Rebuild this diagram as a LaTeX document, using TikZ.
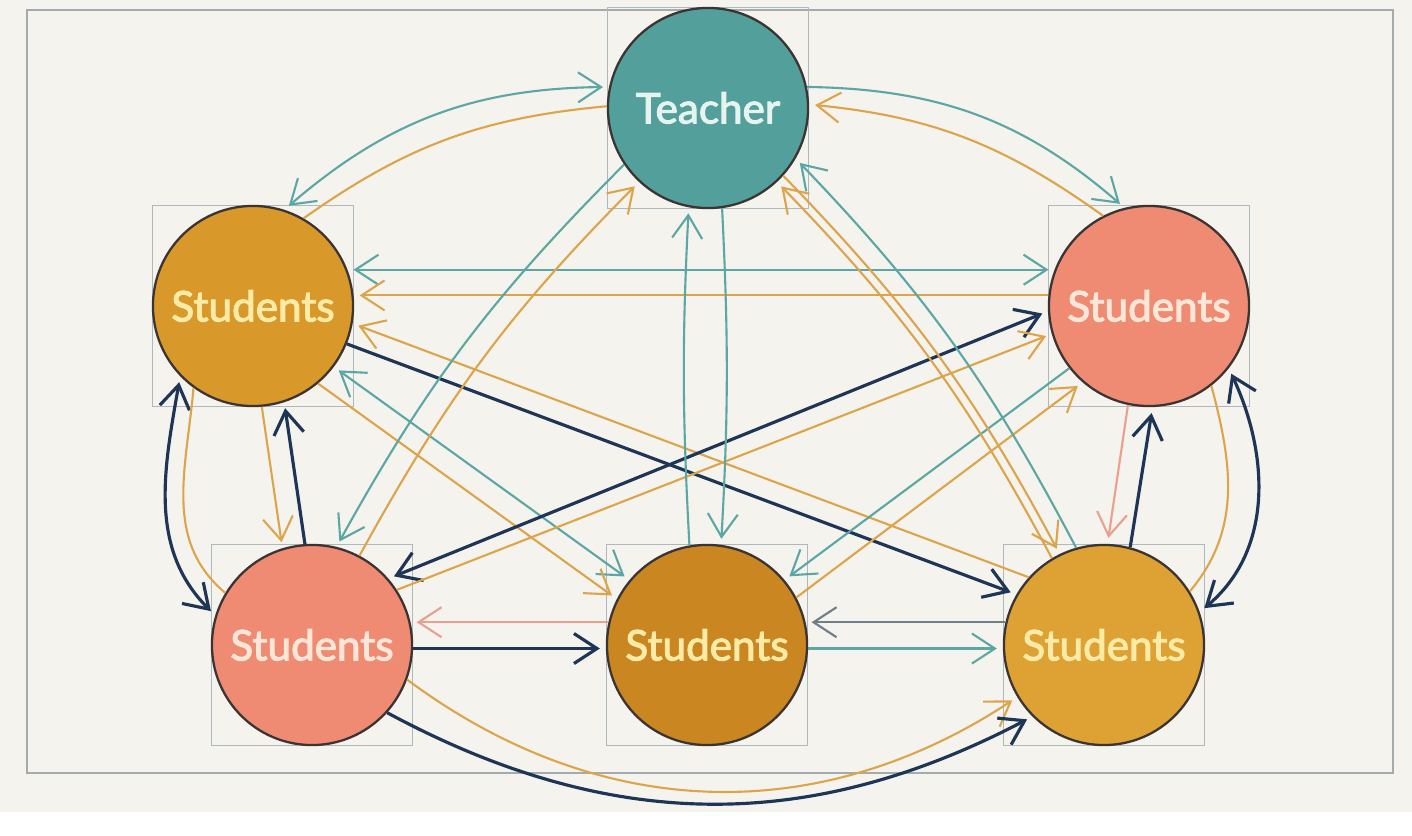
\documentclass[tikz,border=0pt]{standalone}
\usepackage{fontspec}
\setmainfont{Lato}
\newfontfamily\circlefont{Lato}[FakeBold=2.6]
\usetikzlibrary{arrows.meta}

\definecolor{paper}{HTML}{F4F3EE}
\definecolor{framecol}{HTML}{A3ABAF}
\definecolor{boxcol}{HTML}{AEB8BD}
\definecolor{ringcol}{HTML}{3B3433}
\definecolor{tealfill}{HTML}{529F9B}
\definecolor{mustA}{HTML}{D9982A}
\definecolor{mustB}{HTML}{C98621}
\definecolor{mustC}{HTML}{DDA134}
\definecolor{salfill}{HTML}{EF8B73}
\definecolor{paletext}{HTML}{FBEBA6}
\definecolor{salmtext}{HTML}{FCE6D8}
\definecolor{tealtext}{HTML}{E6F3EF}
\definecolor{tealc}{HTML}{5CA6A3}
\definecolor{goldc}{HTML}{DCA54B}
\definecolor{navyc}{HTML}{1E3556}
\definecolor{salc}{HTML}{E9A08E}
\definecolor{grayc}{HTML}{6E7F88}

\begin{document}
\begin{tikzpicture}[x=0.01cm,y=0.01cm,font=\circlefont\fontsize{12}{14}\selectfont,
    >={Straight Barb[length=2.3mm,width=3mm,sep=0.6mm]}]
    \tikzstyle{person}=[circle,draw=ringcol,line width=0.65pt,minimum size=2cm,inner sep=0]
    \tikzstyle{box}=[rectangle,draw=boxcol,line width=0.4pt,minimum size=2.01cm,inner sep=0]
    \tikzstyle{teal link}=[draw=tealc,line width=0.6pt]
    \tikzstyle{gold link}=[draw=goldc,line width=0.6pt]
    \tikzstyle{navy link}=[draw=navyc,line width=0.9pt]
    \tikzstyle{salmon link}=[draw=salc,line width=0.6pt]
    \tikzstyle{gray link}=[draw=grayc,line width=0.6pt]

    \fill[paper] (0,0) rectangle (1412,812);
    \draw[framecol,line width=0.6pt] (27,39) rectangle (1393,802);

    % boxes behind the circles
    \node(tb)[box] at (708,704) {};
    \node(lb)[box] at (253,506) {};
    \node(rb)[box] at (1149,506) {};
    \node(blb)[box] at (312,167) {};
    \node(bmb)[box] at (707,167) {};
    \node(brb)[box] at (1104,167) {};

    \node(t)[person,fill=tealfill,text=tealtext] at (tb) {Teacher};
    \node(l)[person,fill=mustA,text=paletext] at (lb) {Students};
    \node(r)[person,fill=salfill,text=salmtext] at (rb) {Students};
    \node(bl)[person,fill=salfill,text=salmtext] at (blb) {Students};
    \node(bm)[person,fill=mustB,text=paletext] at (bmb) {Students};
    \node(br)[person,fill=mustC,text=paletext] at (brb) {Students};

    % teacher and the upper groups
    \draw[teal link,<->] (l.72) to[bend left=20] (t.168);
    \draw[gold link] (l.60) to[bend left=15] (t.179);
    \draw[teal link,->] (t.12) to[bend left=20] (r.104);
    \draw[gold link,->] (r.117) to[bend right=15] (t.2);

    % across the middle
    \draw[teal link,<->] (l.21) -- (r.159);
    \draw[gold link,->] (r.174) -- (l.6);
    \draw[navy link,->] (l.-22) -- (br.150);
    \draw[gold link,->] (br.138) -- (l.-10);
    \draw[teal link,<->] (l.-37) -- (bm.140);
    \draw[gold link,->] (l.-50) -- (bm.153);
    \draw[navy link,<->] (bl.41) -- (r.-177);
    \draw[gold link,->] (bl.33) -- (r.-164);
    \draw[teal link,->] (r.-142) -- (bm.40);
    \draw[gold link,->] (bm.28) -- (r.-131);

    % left side
    \draw[navy link,<->] (l.-136) to[out=-100,in=135] (bl.163);
    \draw[gold link] (l.-126) to[out=-95,in=140] (bl.149);
    \draw[gold link,->] (l.-85) -- (bl.107);
    \draw[navy link,->] (bl.94) -- (l.-72);

    % right side
    \draw[salmon link,->] (r.-102) -- (br.88);
    \draw[navy link,->] (br.75) -- (r.-88);
    \draw[navy link,<->] (r.-38) to[out=-65,in=40] (br.19);
    \draw[gold link] (r.-52) to[out=-75,in=50] (br.32);

    % teacher and the lower groups
    \draw[teal link,->] (t.214) to[bend right=8] (bl.76);
    \draw[gold link,->] (bl.62) to[bend left=8] (t.-133);
    \draw[teal link,->] (bm.100) to[bend left=3] (t.-101);
    \draw[teal link,->] (t.-82) to[bend left=3] (bm.82);
    \draw[gold link,->] (t.-42) to[bend left=8] (br.116);
    \draw[gold link,->] (br.121) to[bend right=8] (t.-47);
    \draw[teal link,->] (br.106) to[bend right=8] (t.-30);

    % bottom row
    \draw[salmon link,->] (bm.167) -- (bl.13);
    \draw[navy link,->] (bl.-2) -- (bm.-178);
    \draw[gray link,->] (br.167) -- (bm.13);
    \draw[teal link,->] (bm.-2) -- (br.-178);
    \draw[gold link,->] (bl.-20) to[bend right=35] (br.-149);
    \draw[navy link,->] (bl.-42) to[bend right=28] (br.-135);
\end{tikzpicture}
\end{document}
